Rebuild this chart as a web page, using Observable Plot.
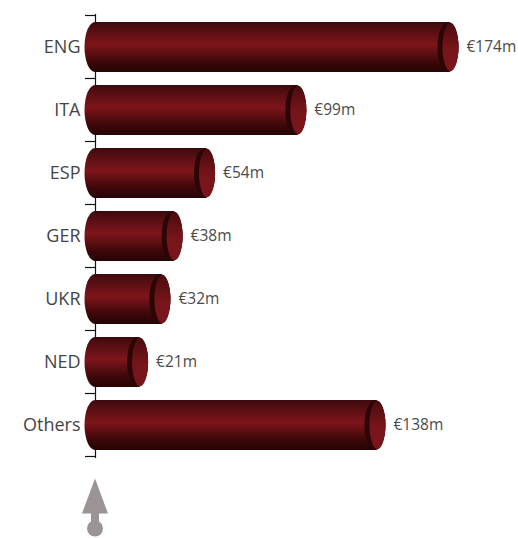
<!DOCTYPE html>
<html><head><meta charset="utf-8">
<script src="https://cdn.jsdelivr.net/npm/d3@7"></script>
<script src="https://cdn.jsdelivr.net/npm/@observablehq/plot@0.6"></script>
<style>body{margin:0;background:#fff}#chart{width:518px;height:538px}</style>
</head><body><div id="chart"></div>
<script>
const countries = ["ENG", "ITA", "ESP", "GER", "UKR", "NED", "Others"];
const amounts = [174, 99, 54, 38, 32, 21, 138];
const valueLabels = ["€174m", "€99m", "€54m", "€38m", "€32m", "€21m", "€138m"];

const data = countries.map((c, i) => ({country: c, amount: amounts[i], label: valueLabels[i]}));

(function () {
const plot = Plot.plot({
  width: 518,
  height: 538,
  marginTop: 14,
  marginBottom: 80,
  marginLeft: 95,
  marginRight: 70,
  style: {fontFamily: "'Open Sans', sans-serif", fontSize: "18px", color: "#444", background: "#fff"},
  x: {domain: [0, 174], axis: null},
  y: {domain: countries, paddingInner: 0.21, paddingOuter: 0.105, label: null},
  marks: [
    Plot.ruleX([0], {stroke: "#111", strokeWidth: 1.2}),
    Plot.axisY({tickSize: 0, tickPadding: 15, fontSize: 18, fill: "#444"}),
    Plot.barX(data, {y: "country", x: "amount", fill: "url(#cyl)"}),
    Plot.text(data, {y: "country", x: "amount", text: "label", dx: 18, textAnchor: "start", fontSize: 15.5, fill: "#4a4a4a"})
  ]
});

const svg = d3.select(plot);
const defs = svg.insert("defs", ":first-child");
const g1 = defs.append("linearGradient").attr("id", "cyl").attr("x1", 0).attr("y1", 0).attr("x2", 0).attr("y2", 1);
[[0, "#3a0a0d"], [0.08, "#4a0c10"], [0.45, "#7e151b"], [0.8, "#3c0709"], [1, "#260405"]].forEach(([o, c]) =>
  g1.append("stop").attr("offset", o).attr("stop-color", c));
const g2 = defs.append("linearGradient").attr("id", "face").attr("x1", 0).attr("y1", 0).attr("x2", 0).attr("y2", 1);
[[0, "#4a0b0e"], [0.55, "#78151a"], [1, "#7a161b"]].forEach(([o, c]) =>
  g2.append("stop").attr("offset", o).attr("stop-color", c));

const xs = plot.scale("x"), ys = plot.scale("y");
const bw = ys.bandwidth, step = ys.step;
const x0 = xs.apply(0);
const rx = 10.5;

const yTop = ys.apply(countries[0]) - (step - bw) / 2;
const tg = svg.append("g").attr("stroke", "#111").attr("stroke-width", 1.2);
d3.range(countries.length + 1).forEach(k => {
  const yy = yTop + k * step;
  tg.append("line").attr("x1", x0 - 10).attr("x2", x0).attr("y1", yy).attr("y2", yy);
});

const caps = svg.append("g");
data.forEach(d => {
  const yc = ys.apply(d.country) + bw / 2;
  const xe = xs.apply(d.amount);
  caps.append("ellipse").attr("cx", x0).attr("cy", yc).attr("rx", rx).attr("ry", bw / 2).attr("fill", "url(#cyl)");
  caps.append("ellipse").attr("cx", xe).attr("cy", yc).attr("rx", rx).attr("ry", bw / 2).attr("fill", "url(#cyl)");
  caps.append("ellipse").attr("cx", xe).attr("cy", yc).attr("rx", rx).attr("ry", bw / 2).attr("fill", "#2c0507");
  caps.append("ellipse").attr("cx", xe + 2.5).attr("cy", yc).attr("rx", rx - 2.5).attr("ry", bw / 2 - 0.8).attr("fill", "url(#face)");
});

const yBottom = yTop + countries.length * step;
const ag = svg.append("g").attr("fill", "#9c9494");
ag.append("path").attr("d", `M${x0},${yBottom + 22} L${x0 + 13},${yBottom + 57} L${x0 - 13},${yBottom + 57} Z`);
ag.append("rect").attr("x", x0 - 4).attr("y", yBottom + 56).attr("width", 8).attr("height", 10);
ag.append("circle").attr("cx", x0).attr("cy", yBottom + 72).attr("r", 8);

document.getElementById("chart").appendChild(plot);
})();
</script>
</body></html>
